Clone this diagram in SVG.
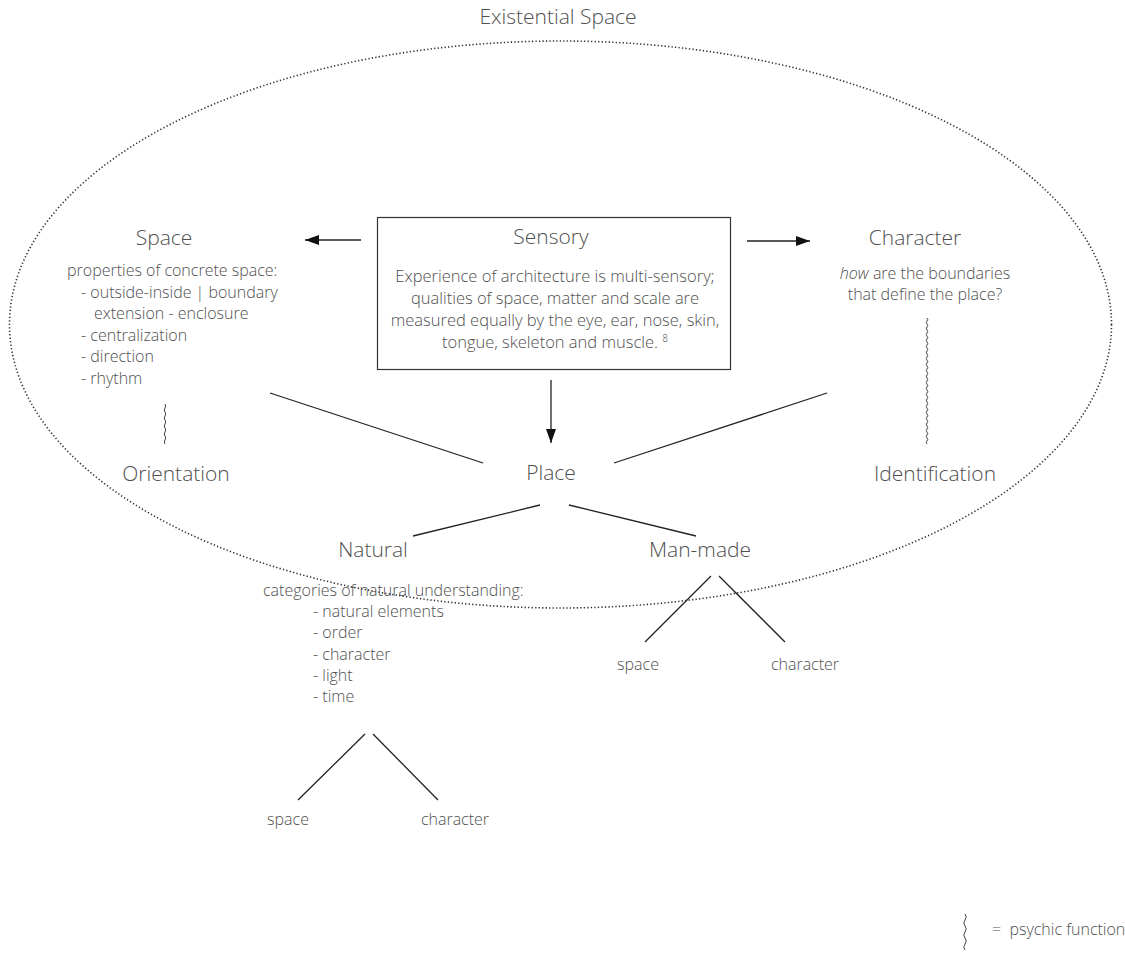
<svg xmlns="http://www.w3.org/2000/svg" width="1125" height="953" viewBox="0 0 1125 953">
<defs>
<style>
text{font-family:"Open Sans","Liberation Sans",sans-serif;font-weight:300;fill:#505050}
.h{font-size:21px;text-anchor:middle}
.b{font-size:16px}
.s{font-size:16.5px;text-anchor:middle}
.c{text-anchor:middle}
.ln{stroke:#222;stroke-width:1.3;fill:none}
.wv{stroke:#444;stroke-width:1;fill:none}
</style>
<marker id="ah" viewBox="0 0 14 10" refX="14" refY="5" markerWidth="14" markerHeight="10" markerUnits="userSpaceOnUse" orient="auto">
<path d="M0 0L14 5L0 10z" fill="#111"/>
</marker>
</defs>
<rect width="1125" height="953" fill="#fff"/>
<g id="existential">
<ellipse cx="560.5" cy="324.5" rx="551" ry="283.5" fill="none" stroke="#333" stroke-width="1.6" stroke-dasharray="1.3 2.2"/>
<text class="h" x="558" y="24">Existential Space</text>
</g>
<g id="connectors">
<line class="ln" x1="361" y1="240" x2="305" y2="240" marker-end="url(#ah)"/>
<line class="ln" x1="747" y1="241" x2="810" y2="241" marker-end="url(#ah)"/>
<line class="ln" x1="551" y1="380" x2="551" y2="443" marker-end="url(#ah)"/>
<line class="ln" x1="270" y1="393" x2="483" y2="463"/>
<line class="ln" x1="827" y1="393" x2="614" y2="463"/>
<line class="ln" x1="540" y1="505" x2="413" y2="536"/>
<line class="ln" x1="569" y1="505" x2="696" y2="536"/>
<line class="ln" x1="711" y1="576" x2="645" y2="642"/>
<line class="ln" x1="719" y1="576" x2="785" y2="642"/>
<line class="ln" x1="365" y1="734" x2="298" y2="800"/>
<line class="ln" x1="373" y1="734" x2="438" y2="800"/>
<path class="wv" d="M165 404q1.5 2 0 4t0 4t0 4t0 4t0 4t0 4t0 4t0 4t0 4t0 4"/>
<path class="wv" d="M927 318q1.5 1.5 0 3t0 3t0 3t0 3t0 3t0 3t0 3t0 3t0 3t0 3t0 3t0 3t0 3t0 3t0 3t0 3t0 3t0 3t0 3t0 3t0 3t0 3t0 3t0 3t0 3t0 3t0 3t0 3t0 3t0 3t0 3t0 3t0 3t0 3t0 3t0 3t0 3t0 3t0 3t0 3t0 3t0 3"/>
</g>
<g id="sensory">
<rect x="377.5" y="217.5" width="353" height="152" fill="none" stroke="#333" stroke-width="1.2"/>
<text class="h" x="551" y="244">Sensory</text>
<text class="s" x="555" y="282">Experience of architecture is multi-sensory;</text>
<text class="s" x="555" y="304">qualities of space, matter and scale are</text>
<text class="s" x="555" y="326">measured equally by the eye, ear, nose, skin,</text>
<text class="s" x="555" y="348">tongue, skeleton and muscle. <tspan font-size="10" dy="-6">8</tspan></text>
</g>
<g id="space">
<text class="h" x="164" y="245">Space</text>
<text class="b" x="67" y="276">properties of concrete space:</text>
<text class="b" x="81" y="298">- outside-inside | boundary</text>
<text class="b" x="94" y="319">extension - enclosure</text>
<text class="b" x="81" y="341">- centralization</text>
<text class="b" x="81" y="362">- direction</text>
<text class="b" x="81" y="384">- rhythm</text>
</g>
<g id="orientation"><text class="h" x="176" y="481">Orientation</text></g>
<g id="character">
<text class="h" x="915" y="245">Character</text>
<text class="b c" x="925" y="279"><tspan font-style="italic">how</tspan> are the boundaries</text>
<text class="b c" x="925" y="300">that define the place?</text>
</g>
<g id="identification"><text class="h" x="935" y="481">Identification</text></g>
<g id="place"><text class="h" x="551" y="480">Place</text></g>
<g id="natural">
<text class="h" x="373" y="557">Natural</text>
<text class="b" x="263" y="596">categories of natural understanding:</text>
<text class="b" x="313" y="617">- natural elements</text>
<text class="b" x="313" y="638">- order</text>
<text class="b" x="313" y="660">- character</text>
<text class="b" x="313" y="681">- light</text>
<text class="b" x="313" y="702">- time</text>
</g>
<g id="natural-space"><text class="b c" x="288" y="825">space</text></g>
<g id="natural-character"><text class="b c" x="455" y="825">character</text></g>
<g id="manmade"><text class="h" x="700" y="557">Man-made</text></g>
<g id="manmade-space"><text class="b c" x="638" y="670">space</text></g>
<g id="manmade-character"><text class="b c" x="805" y="670">character</text></g>
<g id="legend">
<path class="wv" d="M965 914q2.5 3 0 6t0 6t0 6t0 6t0 6t0 6"/>
<text class="b" x="992" y="935" xml:space="preserve">=  psychic function</text>
</g>
</svg>
